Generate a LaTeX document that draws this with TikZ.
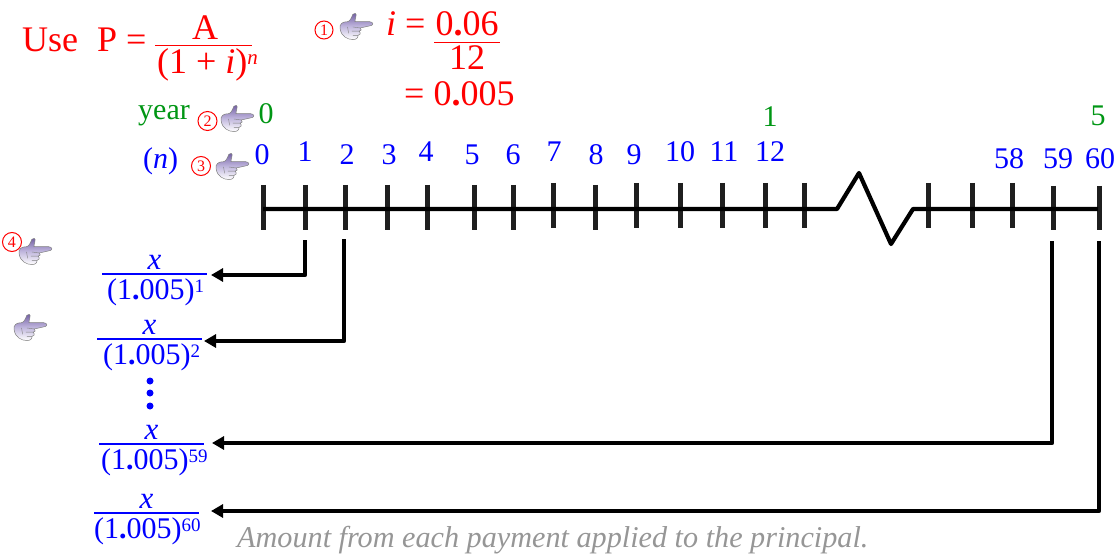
\documentclass[tikz,border=0pt]{standalone}
\usepackage{fontspec}
\setmainfont{Liberation Serif}
\usetikzlibrary{arrows.meta}
\definecolor{hgreen}{RGB}{0,150,20}
\definecolor{hblue}{RGB}{0,0,255}
\definecolor{hgrey}{RGB}{150,150,150}
\definecolor{hhandA}{RGB}{110,90,160}
\definecolor{hhandM}{RGB}{190,180,220}
\tikzset{
  tl/.style={inner sep=0pt,font=\fontsize{#1}{#1}\selectfont},
  redt/.style={tl=#1,text=red},
  bluet/.style={tl=#1,text=hblue},
  greent/.style={tl=#1,text=hgreen},
  numb/.style={bluet=30,anchor=base},
  circnum/.style={circle,draw=red,line width=1pt,text=red,inner sep=0pt,minimum size=#1,font=\fontsize{16}{16}\selectfont},
  tick/.style={line width=5pt,black!88},
  axis/.style={line width=4.2pt,black,line join=round},
  conn/.style={line width=4.3pt,black,line cap=round,line join=round},
  arr/.style={conn,-{Triangle[length=12pt,width=13pt]},line cap=butt},
  frbar/.style={draw=hblue,line width=1.3pt},
  handfill/.style={draw=black!50,line width=.5pt,top color=hhandA,bottom color=white,middle color=hhandM},
  handline/.style={draw=black!50,line width=.4pt},
  pics/hand/.style={code={
    \path[handfill] (-16,1) .. controls (-17,-4) and (-14,-6) .. (-9,-6)
      .. controls (-7,-6) and (-5,-10) .. (-4,-13)
      .. controls (-3,-15) and (0,-14) .. (-1,-11)
      .. controls (-1.5,-9) and (-2,-7) .. (-2,-6)
      -- (12,-6) .. controls (16,-6) and (16,-2) .. (12,-2)
      -- (3,0) .. controls (5,1) and (4,3) .. (2,3)
      .. controls (4,5) and (3,7) .. (1,7)
      .. controls (1,10) and (-1,11) .. (-4,11)
      .. controls (-9,11) and (-15,8) .. (-16,1) -- cycle;
    \draw[handline] (-4,-1) -- (3,0) (-5,3) -- (2,3) (-4,7) -- (1,7) (-9,-1) -- (-8,5);
  }}
}
\begin{document}
\begin{tikzpicture}[x=1pt,y=-1pt]
\useasboundingbox (0,0) rectangle (1118,556);
% formulas
\node[redt=36,anchor=base west] (use) at (22,52) {Use};
\node[redt=36,anchor=base west] (pe) at (97,52) {P =};
\node[redt=36,anchor=base] (anum) at (205,40) {A};
\draw[red,line width=1.9pt] (155,45.5) -- (252,45.5);
\node[redt=36,anchor=base west] (aden) at (157,74) {(1 + \textit{i})\raisebox{9pt}{\fontsize{21}{21}\selectfont\textit{n}}};
\node[circnum=18pt] (c1) at (324,30) {1};
\pic[scale=1.05] at (357,28) {hand};
\node[redt=36,anchor=base west] (ieq) at (386,36) {\textit{i} =};
\node[redt=36,anchor=base] (inum) at (467,36) {0\textbf{.}06};
\draw[red,line width=1.9pt] (434,42.5) -- (500,42.5);
\node[redt=36,anchor=base] (iden) at (467,70) {12};
\node[redt=36,anchor=base west] (ires) at (404,106) {= 0\textbf{.}005};
\node[greent=30,anchor=base west] (year) at (138,119.5) {year};
\node[circnum=19pt] (c2) at (207.5,121) {2};
\pic[scale=1.05] at (238,120) {hand};
\node[greent=30,anchor=base] (y0) at (266,124) {0};
\node[bluet=30,anchor=base west] (nlab) at (143,168) {(\textit{n})};
\node[circnum=19pt] (c3) at (201,166) {3};
\pic[scale=1.05] at (233,168) {hand};
\node[greent=30,anchor=base] (y1) at (770,127) {1};
\node[greent=30,anchor=base] (y5) at (1098,126) {5};
% numbers
\foreach \n/\x/\y in {0/262/164.5,1/305/162,2/347/164.5,3/389/165,4/426/162,5/472/165,6/513/164.5,7/554/162,8/596/164.5,9/634/165,10/680/162,11/724/162,12/770/162,58/1009/168,59/1058/168,60/1100/168}
  \node[numb] (n\n) at (\x,\y) {\n};
% axis
\foreach \nm/\x/\ya/\yb in {0/263/185/230,1/305/185/230,2/345/185/230,3/387/185/230,4/427/185/230,5/474/185/230,6/513/185/230,7/553/183/228,8/595/185/230,9/636/183/228,10/680/183/228,11/722/183/228,12/765/183/228,13/804/183/228,56/928/183/228,57/972/183/228,58/1012/183/228}
  {\draw[tick] (\x,\ya) -- (\x,\yb);
   \coordinate (t\nm) at (\x,209);}
\coordinate (t59) at (1053,209);
\coordinate (t60) at (1098,209);
\draw[tick] (1053,186) -- (1053,230);
\draw[tick] (1099,186) -- (1099,230);
\coordinate (z1) at (837,209);
\coordinate (z2) at (859,173);
\coordinate (z3) at (891,244);
\coordinate (z4) at (913,209);
\draw[axis] (t0) -- (z1) -- (z2) -- (z3) -- (z4) -- (t60);
% fractions: label, bar centre x, bar y, denominator left x
\newcommand{\fracrow}[4]{%
  \node[bluet=31,anchor=base] (x#1) at (#2,#3-5) {\textit{x}};
  \draw[frbar] (#2-52.5,#3) -- (#2+52.5,#3);
  \node[bluet=30,anchor=base west] (d#1) at (#4,#3+25) {(1\textbf{.}005)\raisebox{7pt}{\fontsize{19}{19}\selectfont #1}};
}
\fracrow{1}{154.5}{274}{107}
\fracrow{2}{149.5}{339}{103}
\fracrow{59}{151.5}{444}{101}
\fracrow{60}{146.5}{513}{94}
\fill[hblue] (150,381) circle (3.5pt) (150,393) circle (3.5pt) (150,406) circle (3.5pt);
% hands 4
\node[circnum=19pt] (c4) at (12,242) {4};
\pic[scale=1.05] at (36,253) {hand};
\pic[scale=1.05] at (31,329) {hand};
% connectors
\coordinate (a1) at (305,240); \coordinate (b1) at (211,275);
\coordinate (a2) at (344,239); \coordinate (b2) at (204,341);
\coordinate (a59) at (1052,241); \coordinate (b59) at (212,443);
\coordinate (a60) at (1099,241); \coordinate (b60) at (211,511);
\draw[arr] (a1) |- (b1);
\draw[arr] (a2) |- (b2);
\draw[arr] (a59) |- (b59);
\draw[arr] (a60) |- (b60);
\node[tl=30.2,text=hgrey,anchor=base west,font=\fontsize{30.2}{30.2}\selectfont\itshape] (cap) at (237,547) {Amount from each payment applied to the principal.};
\end{tikzpicture}
\end{document}
